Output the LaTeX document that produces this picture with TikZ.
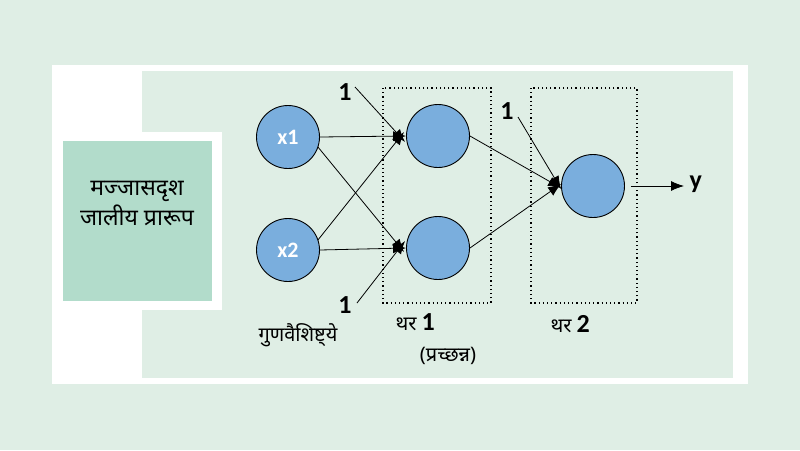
\documentclass[tikz,border=0pt]{standalone}
\usepackage{fontspec}
\setmainfont{Carlito}
\newfontfamily\deva[Script=Devanagari]{Noto Sans}
\usetikzlibrary{arrows.meta}
\definecolor{bgc}{HTML}{DFEEE5}
\definecolor{teal}{HTML}{B2DCCB}
\definecolor{nb}{HTML}{7AAEDD}
\begin{document}
\begin{tikzpicture}[x=1pt,y=-1pt,
  neuron/.style={circle,draw=black,fill=nb,line width=0.9pt,minimum size=63pt,inner sep=0pt},
  conn/.style={line width=0.8pt,-{Latex[length=13pt,width=10pt]}},
  layerbox/.style={draw,line width=1.2pt,dash pattern=on 1.2pt off 3pt},
  dv/.style={font=\deva\fontsize{20}{24}\selectfont},
  num/.style={font=\fontsize{26}{28}\selectfont\bfseries}]
\useasboundingbox (0,0) rectangle (800,450);
\fill[bgc] (0,0) rectangle (800,450);
\fill[white] (52,65) rectangle (748,384);
\fill[bgc] (142,71) rectangle (733,378);
\fill[white] (52,132) rectangle (222,310);
\fill[teal] (63,141) rectangle (212,301);
\node[dv,font=\deva\fontsize{23}{30}\selectfont,align=center] (title) at (137,203) {मज्जासदृश\\जालीय प्रारूप};
\draw[layerbox] (383,88) rectangle (491,303);
\draw[layerbox] (531,88) rectangle (637,303);
\node[neuron,text=white,font=\fontsize{22}{24}\selectfont\bfseries] (x1) at (288,137) {x1};
\node[neuron,text=white,font=\fontsize{22}{24}\selectfont\bfseries] (x2) at (288,250) {x2};
\node[neuron] (h1) at (438,136) {};
\node[neuron] (h2) at (438,248) {};
\node[neuron] (o) at (593,186) {};
\draw[conn] (x1.east) -- (h1.west);
\draw[conn] (x1.east) ++(-2,10) coordinate (x1a) (x1a) -- ([xshift=-2pt,yshift=-4pt]h2.west);
\draw[conn] (x2.east) ++(-2,-10) coordinate (x2a) (x2a) -- ([xshift=-2pt,yshift=4pt]h1.west);
\draw[conn] (x2.east) -- (h2.west);
\draw[conn] (h1.east) -- ([yshift=-2pt]o.west);
\draw[conn] (h2.east) -- ([yshift=2pt]o.west);
\node[num] (b1) at (345,92) {1};
\coordinate (b1e) at (355,87);
\draw[conn] (b1e) -- ([xshift=-1pt,yshift=-6pt]h1.west);
\node[num] (b2) at (345,305) {1};
\coordinate (b2e) at (357,303);
\draw[conn] (b2e) -- ([xshift=-1pt,yshift=7pt]h2.west);
\node[num] (b3) at (507,111) {1};
\coordinate (b3e) at (518,117);
\draw[conn] (b3e) -- ([yshift=-3pt]o.west);
\coordinate (ye) at (684,186);
\draw[conn] (o.east) ++(6,0) coordinate (oe) (oe) -- (ye);
\node[font=\fontsize{26}{28}\selectfont\bfseries,anchor=west] (y) at (686,184) {y};
\node[dv] (feat) at (298,335) {गुणवैशिष्ट्ये};
\node[dv,anchor=base west] (l1) at (392,330) {थर \fontsize{26}{28}\selectfont\bfseries\rmfamily 1};
\node[dv] (l1b) at (448,356) {(प्रच्छन्न)};
\node[dv,anchor=base west] (l2) at (547,332) {थर \fontsize{26}{28}\selectfont\bfseries\rmfamily 2};
\end{tikzpicture}
\end{document}
